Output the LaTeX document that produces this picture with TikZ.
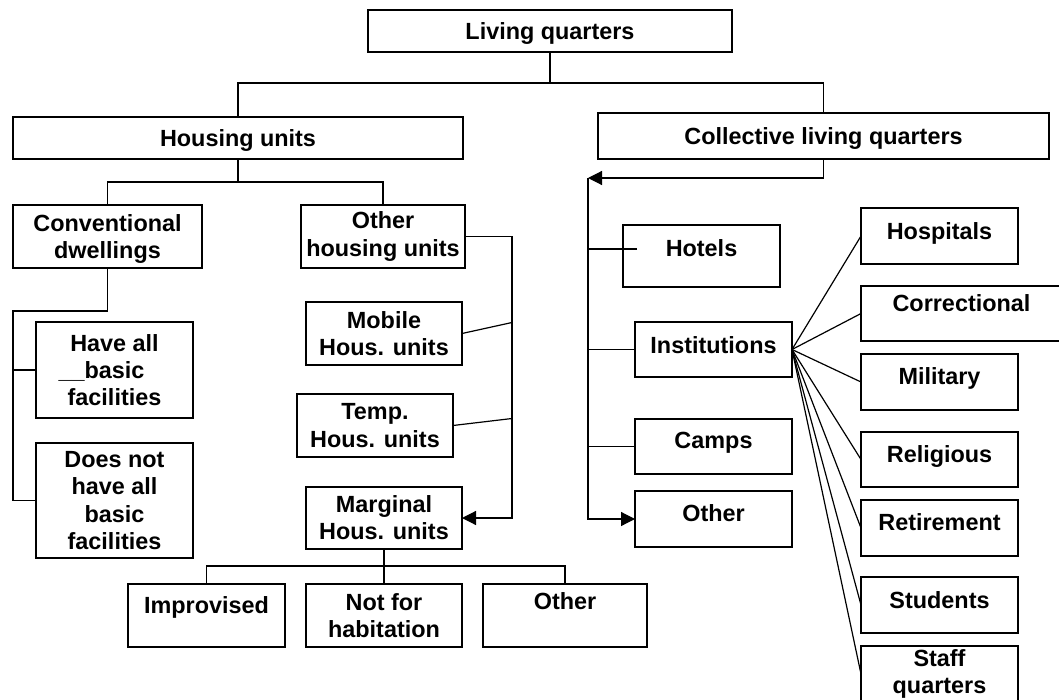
\documentclass[tikz,border=0pt]{standalone}
\usepackage{fontspec}
\setmainfont{Liberation Sans}
\usetikzlibrary{arrows.meta,calc}
\begin{document}
\begin{tikzpicture}[x=0.5pt,y=-0.5pt,
  box/.style={draw,line width=0.6pt,inner sep=0pt,outer sep=0pt,align=center,
    anchor=north west,font=\fontsize{11.7}{13.6}\selectfont\bfseries},
  sz/.style 2 args={minimum width=#1*0.5pt,minimum height=#2*0.5pt},
  lift/.style={text height=9pt,text depth=#1},
  link/.style={line width=0.6pt},
  tri/.style={link,-{Triangle[length=7pt,width=7pt]}}]
\clip (0,0) rectangle (1059,700);
% top levels
\node[box,sz={364}{42},lift=0pt] (lq) at (368,10) {Living quarters};
\node[box,sz={450}{42},lift=0pt] (hu) at (13,117) {Housing units};
\node[box,sz={451}{46},lift=0pt] (clq) at (598,113) {Collective living quarters};
% housing units
\node[box,sz={189}{63},text depth=0pt] (conv) at (13,205) {Conventional\\dwellings};
\node[box,sz={164}{63}] (ohu) at (301,205) {Other\\housing units};
\node[box,sz={157}{96}] (have) at (36,322) {Have all\\\leavevmode\llap{\_\_}basic\\facilities};
\node[box,sz={157}{115}] (doesnot) at (36,443) {Does not\\have all\\basic\\facilities};
\node[box,sz={156}{63}] (mobile) at (306,302) {Mobile\\Hous. units};
\node[box,sz={156}{63}] (temp) at (297,394) {Temp.\\Hous. units};
\node[box,sz={156}{62}] (marg) at (306,487) {Marginal\\Hous. units};
\node[box,sz={157}{63},lift=10.6pt] (impr) at (128,584) {Improvised};
\node[box,sz={156}{63}] (notfor) at (306,584) {Not for\\habitation};
\node[box,sz={164}{63},lift=14.6pt] (othb) at (483,584) {Other};
% collective living quarters
\node[box,sz={157}{62},lift=8.6pt] (hotels) at (623,225) {Hotels};
\node[box,sz={157}{55},lift=4.6pt] (inst) at (635,322) {Institutions};
\node[box,sz={157}{55},lift=6.6pt] (camps) at (635,419) {Camps};
\node[box,sz={157}{56},lift=6.6pt] (othr) at (635,491) {Other};
% institutions
\node[box,sz={157}{56},lift=5.6pt] (hosp) at (861,208) {Hospitals};
\node[box,sz={201}{55},lift=10.6pt] (corr) at (861,286) {Correctional};
\node[box,sz={157}{56},lift=6.6pt] (mil) at (861,354) {Military};
\node[box,sz={157}{55},lift=5.6pt] (rel) at (861,432) {Religious};
\node[box,sz={157}{56},lift=6.6pt] (ret) at (861,500) {Retirement};
\node[box,sz={157}{56},lift=5.6pt] (stud) at (861,577) {Students};
\node[box,sz={157}{56}] (staff) at (861,646) {Staff\\quarters};
% connectors
\draw[link,line width=1pt] (lq.south) -- ++(0,31) coordinate (lqj);
\draw[link] (hu.north) |- (lqj) -| (clq.north);
\draw[link] (hu.south) -- ++(0,23) coordinate (huj);
\draw[link] (conv.north) |- (huj) -| (ohu.north);
\coordinate (convj) at (13,311);
\draw[link] (conv.south) |- (convj) |- (doesnot.west);
\draw[link] (have.west) -- (have.west -| convj);
\coordinate (trunk) at (512,0);
\draw[tri] (ohu.east) -| (marg.east -| trunk) -- (marg.east);
\draw[link] (mobile.east) -- ($(mobile.east -| trunk)+(0,-11)$);
\draw[link] (temp.east) -- ($(temp.east -| trunk)+(0,-7)$);
\draw[link,line width=1pt] (marg.south) -- ++(0,17) coordinate (margj);
\draw[link] (impr.north) |- (margj) -| (othb.north);
\draw[link] (margj) -- (notfor.north);
\coordinate (cspine) at (588,178);
\draw[tri] (clq.south) |- (cspine);
\draw[tri] (cspine) |- (othr.west);
\draw[link] ($(hotels.west)+(14,-7)$) -- ++(-49,0);
\draw[link] (inst.west) -- (inst.west -| cspine);
\draw[link] (camps.west) -- (camps.west -| cspine);
\foreach \t in {hosp,corr,mil,rel,ret,stud,staff}
  \draw[link] (inst.east) -- (\t.west);
\end{tikzpicture}
\end{document}
